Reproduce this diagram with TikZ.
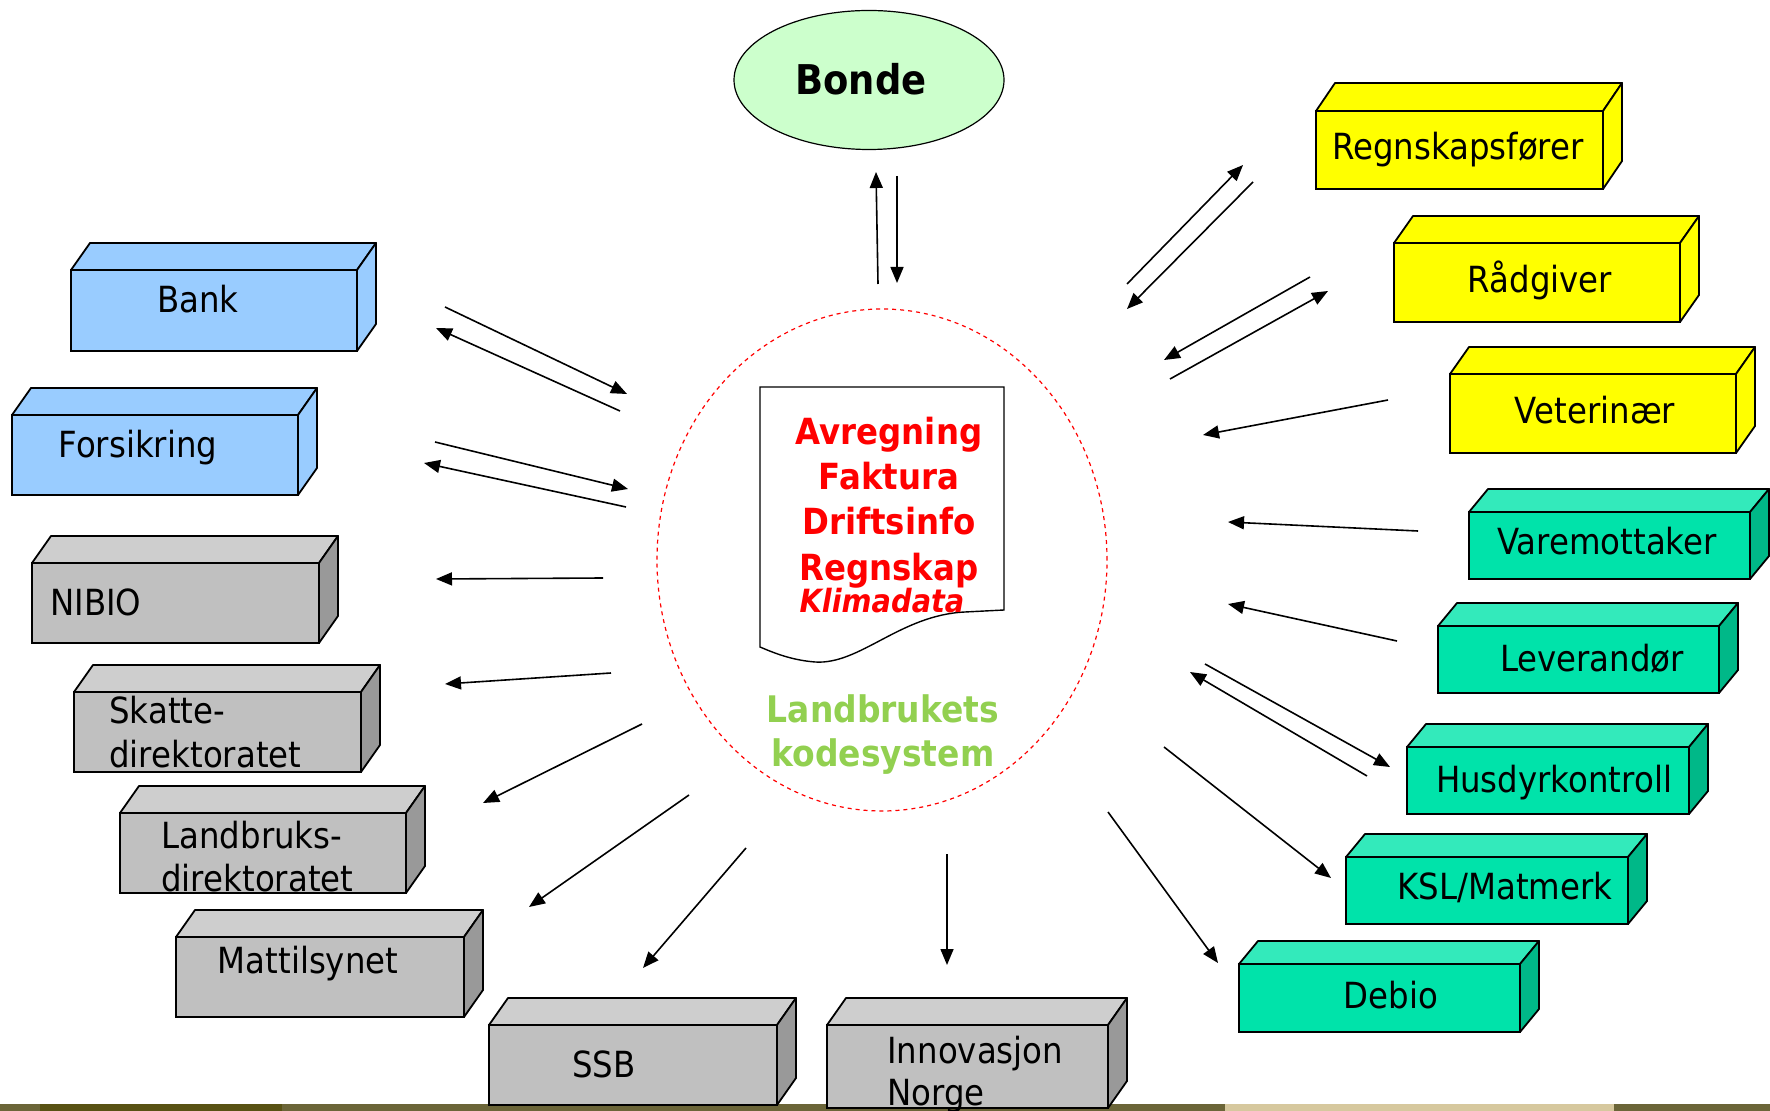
\documentclass[tikz,border=0pt]{standalone}
\usepackage{fontspec}
\setmainfont{DejaVu Sans}[FakeStretch=0.9]
\usetikzlibrary{arrows.meta,shapes.geometric}

\definecolor{bluebox}{RGB}{153,204,255}
\definecolor{yelbox}{RGB}{255,255,0}
\definecolor{greyF}{RGB}{192,192,192}
\definecolor{greyT}{RGB}{206,206,206}
\definecolor{greyS}{RGB}{153,153,153}
\definecolor{tealF}{RGB}{0,227,170}
\definecolor{tealT}{RGB}{51,234,187}
\definecolor{tealS}{RGB}{0,184,136}
\definecolor{bondefill}{RGB}{204,255,204}
\definecolor{kodegreen}{RGB}{146,208,80}
\definecolor{stripolive}{RGB}{107,101,56}
\definecolor{stripdark}{RGB}{88,82,20}
\definecolor{stripsand}{RGB}{214,200,158}

\tikzset{
  slab/.style={draw, line width=0.9pt, inner sep=0pt, outer sep=0pt, anchor=north west},
  flow/.style={line width=0.8pt, -{Triangle[length=8pt,width=6.5pt]}},
  lbl/.style={font=\fontsize{18}{20}\selectfont, inner sep=0pt},
  doctxt/.style={font=\bfseries\fontsize{18}{20}\selectfont, text=red, inner sep=0pt, anchor=base},
  kodetxt/.style={font=\bfseries\fontsize{18.3}{20}\selectfont, text=kodegreen, inner sep=0pt, anchor=base},
}

% #1 name, #2 top left, #3 width, #4 height, #5 front, #6 top, #7 side, #8 depth
\newcommand{\slabbox}[8]{%
  \node[slab, fill=#5, minimum width=#3*0.5pt, minimum height=#4*0.5pt] (#1) at (#2) {};
  \filldraw[line width=0.9pt, fill=#6, line join=round] (#1.north west) -- ++(19,-#8)
    -- ([shift={(19,-#8)}]#1.north east) -- (#1.north east) -- cycle;
  \filldraw[line width=0.9pt, fill=#7, line join=round] (#1.north east) -- ++(19,-#8)
    -- ([shift={(19,-#8)}]#1.south east) -- (#1.south east) -- cycle;
}

% #1 name, #2 from, #3 to
\newcommand{\flowline}[3]{%
  \coordinate (#1a) at (#2);
  \coordinate (#1b) at (#3);
  \draw[flow] (#1a) -- (#1b);
}

\begin{document}
\begin{tikzpicture}[x=0.5pt,y=-0.5pt]
\useasboundingbox (0,0) rectangle (1770,1111);

%strip
\fill[stripolive] (0,1104) rectangle (1770,1111);
\fill[stripdark] (40,1104) rectangle (282,1111);
\fill[stripsand] (1225,1104) rectangle (1614,1111);

%Bonde
\node[ellipse, draw, line width=0.6pt, fill=bondefill, minimum width=135pt, minimum height=69.5pt] (bonde) at (869,80) {};
\node[font=\bfseries\fontsize{20.5}{22}\selectfont, inner sep=0pt, anchor=base] (bondetxt) at (861,95) {Bonde};

%center
\node[ellipse, draw=red, dashed, dash pattern=on 2pt off 2pt, line width=0.6pt, minimum width=225pt, minimum height=251pt] (kodering) at (882,560) {};
\draw[line width=0.7pt, fill=white] (760,387) -- (1004,387) -- (1004,610) -- (965,612)
  .. controls (900,615) and (860,665) .. (815,662)
  .. controls (790,660) and (772,652) .. (760,647) -- cycle;
\foreach \w/\y [count=\i] in {Avregning/445,Faktura/490,Driftsinfo/535,Regnskap/581}
  \node[doctxt] (doc\i) at (889,\y) {\w};
\node[doctxt, font=\bfseries\itshape\fontsize{16}{18}\selectfont] (klima) at (882,612) {Klimadata};
\node[kodetxt] (kode1) at (883,722) {Landbrukets};
\node[kodetxt] (kode2) at (883,766) {kodesystem};

%left boxes
\slabbox{bank}{71,270}{286}{81}{bluebox}{bluebox}{bluebox}{27}
\slabbox{fors}{12,415}{286}{80}{bluebox}{bluebox}{bluebox}{27}
\slabbox{nibio}{32,563}{287}{80}{greyF}{greyT}{greyS}{27}
\slabbox{skatt}{74,692}{287}{80}{greyF}{greyT}{greyS}{27}
\slabbox{ldir}{120,813}{286}{80}{greyF}{greyT}{greyS}{27}
\slabbox{matt}{176,937}{288}{80}{greyF}{greyT}{greyS}{27}
\slabbox{ssb}{489,1025}{288}{80}{greyF}{greyT}{greyS}{27}
\slabbox{innov}{827,1025}{281}{83}{greyF}{greyT}{greyS}{27}

\node[lbl, anchor=base] (banktxt) at (198,313) {Bank};
\node[lbl, anchor=base] (forstxt) at (138,458) {Forsikring};
\node[lbl, anchor=base west] (nibiotxt) at (50,616) {NIBIO};
\node[lbl, anchor=base west] (skatttxt) at (109,723) {Skatte-};
\node[lbl, anchor=base west] (skatttxtb) at (109,767) {direktoratet};
\node[lbl, anchor=base west] (ldirtxt) at (161,848) {Landbruks-};
\node[lbl, anchor=base west] (ldirtxtb) at (161,891) {direktoratet};
\node[lbl, anchor=base] (matttxt) at (308,973) {Mattilsynet};
\node[lbl, anchor=base] (ssbtxt) at (604,1077) {SSB};
\node[lbl, anchor=base west] (innovtxt) at (887,1063) {Innovasjon};
\node[lbl, anchor=base west] (innovtxtb) at (887,1105) {Norge};

%right boxes
\slabbox{regn}{1316,111}{287}{78}{yelbox}{yelbox}{yelbox}{28}
\slabbox{raad}{1394,243}{286}{79}{yelbox}{yelbox}{yelbox}{27}
\slabbox{vet}{1450,374}{286}{79}{yelbox}{yelbox}{yelbox}{27}
\slabbox{vare}{1469,512}{281}{67}{tealF}{tealT}{tealS}{23}
\slabbox{lev}{1438,626}{281}{67}{tealF}{tealT}{tealS}{23}
\slabbox{husd}{1407,747}{282}{67}{tealF}{tealT}{tealS}{23}
\slabbox{ksl}{1346,857}{282}{67}{tealF}{tealT}{tealS}{23}
\slabbox{debio}{1239,964}{281}{68}{tealF}{tealT}{tealS}{23}

\node[lbl, anchor=base] (regntxt) at (1458,160) {Regnskapsfører};
\node[lbl, anchor=base] (raadtxt) at (1540,293) {Rådgiver};
\node[lbl, anchor=base] (vettxt) at (1595,424) {Veterinær};
\node[lbl, anchor=base] (varetxt) at (1607,555) {Varemottaker};
\node[lbl, anchor=base] (levtxt) at (1592,671) {Leverandør};
\node[lbl, anchor=base] (husdtxt) at (1554,792) {Husdyrkontroll};
\node[lbl, anchor=base] (ksltxt) at (1505,899) {KSL/Matmerk};
\node[lbl, anchor=base] (debiotxt) at (1391,1008) {Debio};

%arrows Bonde
\flowline{bup}{878,284}{876,172}
\flowline{bdown}{897,176}{897,283}
%arrows left
\flowline{bankin}{445,307}{627,394}
\flowline{bankout}{620,411}{436,328}
\flowline{forsin}{435,442}{628,489}
\flowline{forsout}{626,507}{424,463}
\flowline{nibioout}{603,578}{436,579}
\flowline{skattout}{611,673}{445,684}
\flowline{ldirout}{642,724}{483,803}
\flowline{mattout}{689,795}{529,907}
\flowline{ssbout}{746,848}{643,968}
\flowline{innovout}{947,854}{947,965}
%arrows right
\flowline{debioout}{1108,812}{1218,963}
\flowline{kslout}{1164,747}{1331,878}
\flowline{husdout}{1205,664}{1390,767}
\flowline{husdin}{1367,776}{1190,672}
\flowline{levin}{1397,641}{1228,604}
\flowline{varein}{1418,531}{1228,522}
\flowline{vetin}{1388,400}{1203,435}
\flowline{raadin}{1310,277}{1164,360}
\flowline{raadout}{1170,379}{1328,291}
\flowline{regnout}{1127,284}{1243,165}
\flowline{regnin}{1253,182}{1127,309}
\end{tikzpicture}
\end{document}
